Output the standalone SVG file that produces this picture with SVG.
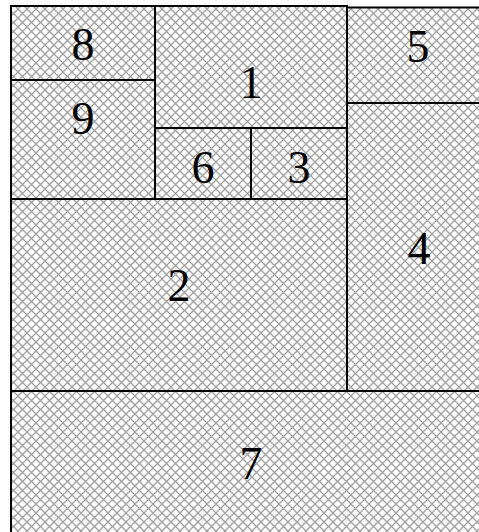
<svg xmlns="http://www.w3.org/2000/svg" width="479" height="532" viewBox="0 0 479 532">
<defs>
<pattern id="hatch" patternUnits="userSpaceOnUse" x="0" y="0" width="9" height="9">
<rect width="9" height="9" fill="#fff"/>
<path d="M0,0 L9,9 M9,0 L0,9" stroke="#a0a0a0" stroke-width="1.3" fill="none"/>
</pattern>
</defs>
<style>
.box{fill:url(#hatch);stroke:#000;stroke-width:2}
.lbl{font-family:"Liberation Serif","Times New Roman",serif;font-size:46px;fill:#000;text-anchor:middle}
</style>
<rect width="479" height="532" fill="#fff"/>
<g id="n7"><rect class="box" x="11" y="391" width="480" height="150"/><text class="lbl" x="251" y="479">7</text></g>
<g id="n2"><rect class="box" x="11" y="199" width="336" height="192"/><text class="lbl" x="179" y="301">2</text></g>
<g id="n4"><rect class="box" x="347" y="103" width="142" height="288"/><text class="lbl" x="419" y="264">4</text></g>
<g id="n5"><rect class="box" x="347" y="7.5" width="142" height="95.5"/><text class="lbl" x="418" y="62">5</text></g>
<g id="n8"><rect class="box" x="11" y="6" width="144" height="74"/><text class="lbl" x="83" y="60">8</text></g>
<g id="n9"><rect class="box" x="11" y="80" width="144" height="119"/><text class="lbl" x="83" y="134">9</text></g>
<g id="n1"><rect class="box" x="155" y="6" width="192" height="122"/><text class="lbl" x="251" y="98">1</text></g>
<g id="n6"><rect class="box" x="155" y="128" width="96" height="71"/><text class="lbl" x="203" y="183">6</text></g>
<g id="n3"><rect class="box" x="251" y="128" width="96" height="71"/><text class="lbl" x="299" y="183">3</text></g>
<g id="connectors"></g>
</svg>
